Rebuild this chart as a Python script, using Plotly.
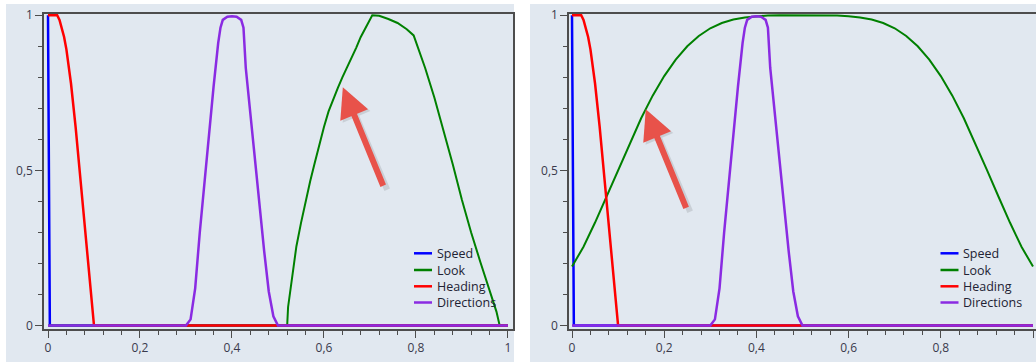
import plotly.graph_objects as go

# ---- data -------------------------------------------------------------
speed_x = [0.0, 0.004, 1.0]
speed_y = [1.0, 0.0, 0.0]

heading_x = [0.0, 0.02, 0.025, 0.03, 0.035, 0.04, 0.05, 0.06, 0.07, 0.08, 0.09, 0.1, 1.0]
heading_y = [1.0, 1.0, 0.985, 0.96, 0.93, 0.89, 0.78, 0.64, 0.48, 0.32, 0.16, 0.0, 0.0]

directions_x = [0.0, 0.3, 0.31, 0.32, 0.33, 0.34, 0.35, 0.36, 0.37, 0.375, 0.38,
                0.39, 0.4, 0.41, 0.42, 0.425, 0.43, 0.44, 0.45, 0.46, 0.47,
                0.48, 0.49, 0.5, 1.0]
directions_y = [0.0, 0.0, 0.02, 0.12, 0.3, 0.46, 0.62, 0.77, 0.91, 0.96, 0.985,
                0.995, 0.997, 0.995, 0.985, 0.96, 0.83, 0.68, 0.53, 0.39, 0.24,
                0.11, 0.03, 0.0, 0.0]

# Look curve, first configuration
look_a_x = [0.0, 0.52, 0.522, 0.53, 0.54, 0.55, 0.56, 0.57, 0.58, 0.59, 0.6,
            0.61, 0.62, 0.63, 0.64, 0.65, 0.66, 0.67, 0.68, 0.69, 0.7, 0.705,
            0.72, 0.74, 0.76, 0.78, 0.795, 0.8, 0.82, 0.84, 0.86, 0.88, 0.9,
            0.92, 0.94, 0.96, 0.975, 0.982, 1.0]
look_a_y = [0.0, 0.0, 0.06, 0.15, 0.255, 0.33, 0.4, 0.465, 0.525, 0.585, 0.64,
            0.69, 0.73, 0.765, 0.8, 0.83, 0.865, 0.895, 0.93, 0.96, 0.99, 1.0,
            0.998, 0.988, 0.975, 0.955, 0.935, 0.915, 0.83, 0.735, 0.63, 0.52, 0.405,
            0.3, 0.205, 0.115, 0.045, 0.0, 0.0]

# Look curve, second configuration
look_b_x = [0.0, 0.025, 0.05, 0.075, 0.1, 0.125, 0.15, 0.175, 0.2, 0.225, 0.25,
            0.275, 0.3, 0.325, 0.35, 0.375, 0.4, 0.425, 0.45, 0.475, 0.5,
            0.525, 0.55, 0.575, 0.6, 0.625, 0.65, 0.675, 0.7, 0.725, 0.75,
            0.775, 0.8, 0.825, 0.85, 0.875, 0.9, 0.925, 0.95, 0.975, 1.0]
look_b_y = [0.19, 0.254, 0.332, 0.416, 0.502, 0.587, 0.668, 0.741, 0.804, 0.857, 0.9,
            0.933, 0.958, 0.975, 0.986, 0.993, 0.997, 0.999, 1.0, 1.0, 1.0,
            1.0, 1.0, 0.999, 0.997, 0.993, 0.986, 0.975, 0.958, 0.933, 0.9,
            0.857, 0.804, 0.741, 0.668, 0.587, 0.502, 0.416, 0.332, 0.254, 0.19]

series_names = ["Speed", "Look", "Heading", "Directions"]
x_tick_vals = [0, 0.2, 0.4, 0.6, 0.8, 1]
y_tick_vals = [0, 0.5, 1]

# ---- styling ----------------------------------------------------------
W, H = 1036, 362
PANEL = "#e1e8f0"
AXIS = "#4d4d4d"
FONT = "Open Sans, Noto Sans, sans-serif"
TICKFONT = dict(family=FONT, size=12, color="#3a3a4c")
COLORS = {"Speed": "#0000ff", "Look": "#008000", "Heading": "#ff0000", "Directions": "#8a2be2"}
WIDTHS = {"Speed": 2.5, "Look": 2, "Heading": 2.5, "Directions": 2.5}

fig = go.Figure()

panels = [
    ("x", "y", look_a_x, look_a_y),
    ("x2", "y2", look_b_x, look_b_y),
]
for xa, ya, lx, ly in panels:
    series = {
        "Speed": (speed_x, speed_y),
        "Look": (lx, ly),
        "Heading": (heading_x, heading_y),
        "Directions": (directions_x, directions_y),
    }
    for name in series_names:
        sx, sy = series[name]
        fig.add_trace(go.Scatter(
            x=sx, y=sy, mode="lines", name=name, showlegend=False,
            line=dict(color=COLORS[name], width=WIDTHS[name]),
            xaxis=xa, yaxis=ya, hoverinfo="skip",
        ))


def xaxis_cfg(domain, rng, anchor):
    return dict(
        domain=domain, range=rng, anchor=anchor, automargin=False,
        tickvals=x_tick_vals, tickformat="~g",
        showgrid=False, zeroline=False, showline=True, linecolor=AXIS, linewidth=1.5,
        mirror=True, ticks="outside", ticklen=7, tickwidth=1.2, tickcolor=AXIS,
        tickfont=TICKFONT,
        minor=dict(dtick=0.04, tick0=0, ticks="outside", ticklen=4, tickwidth=1.2,
                   tickcolor=AXIS, showgrid=False),
    )


def yaxis_cfg(anchor, mirror):
    return dict(
        domain=[1 - 329 / H, 1 - 14 / H], range=[-0.011, 1.004], anchor=anchor,
        automargin=False, tickvals=y_tick_vals, tickformat="~g",
        showgrid=False, zeroline=False, showline=True, linecolor=AXIS, linewidth=1.5,
        mirror=mirror, ticks="outside", ticklen=7, tickwidth=1.2, tickcolor=AXIS,
        tickfont=TICKFONT,
        minor=dict(dtick=0.1, tick0=0, ticks="outside", ticklen=4, tickwidth=1.2,
                   tickcolor=AXIS, showgrid=False),
    )


fig.update_layout(
    width=W, height=H,
    margin=dict(l=0, r=0, t=0, b=0, pad=0),
    paper_bgcolor="white",
    plot_bgcolor=PANEL,
    separators=",.",
    showlegend=False,
    xaxis=xaxis_cfg([44 / W, 513 / W], [-0.0087, 1.011], "y"),
    yaxis=yaxis_cfg("x", True),
    xaxis2=xaxis_cfg([569 / W, 1.0], [-0.0065, 1.0065], "y2"),
    yaxis2=yaxis_cfg("x2", False),
)

# panel backgrounds behind each chart
for x0, x1 in [(6, 514), (530, W)]:
    fig.add_shape(type="rect", xref="paper", yref="paper", x0=x0 / W, x1=x1 / W,
                  y0=0, y1=1 - 4 / H, fillcolor=PANEL, line_width=0, layer="below")

# compact key in the lower right of each chart
legend_rows = [253.3, 270, 286.3, 302.5]
for line_x0 in (414, 940.5):
    for name, row in zip(series_names, legend_rows):
        yp = 1 - row / H
        fig.add_shape(type="line", xref="paper", yref="paper",
                      x0=line_x0 / W, x1=(line_x0 + 18) / W, y0=yp, y1=yp,
                      line=dict(color=COLORS[name], width=2.5))
        fig.add_annotation(x=(line_x0 + 20.5) / W, y=yp, xref="paper", yref="paper",
                           text=name, showarrow=False, xanchor="left", yanchor="middle",
                           font=dict(family=FONT, size=12.5, color="#222233"))

# red call-out arrows pointing at the Look curve
arrows = [("x", "y", 0.641, 0.768), ("x2", "y2", 0.16, 0.697)]
for xr, yr, tx, ty in arrows:
    fig.add_annotation(x=tx, y=ty, xref=xr, yref=yr, ax=43, ay=102,
                       xshift=2, yshift=-2, text="", showarrow=True,
                       arrowhead=2, arrowsize=1.0, arrowwidth=6,
                       arrowcolor="rgba(0,0,0,0.10)")
    fig.add_annotation(x=tx, y=ty, xref=xr, yref=yr, ax=41, ay=100,
                       text="", showarrow=True, arrowhead=2, arrowsize=1.0,
                       arrowwidth=6, arrowcolor="#e8524a")

fig.write_html("out.html")
